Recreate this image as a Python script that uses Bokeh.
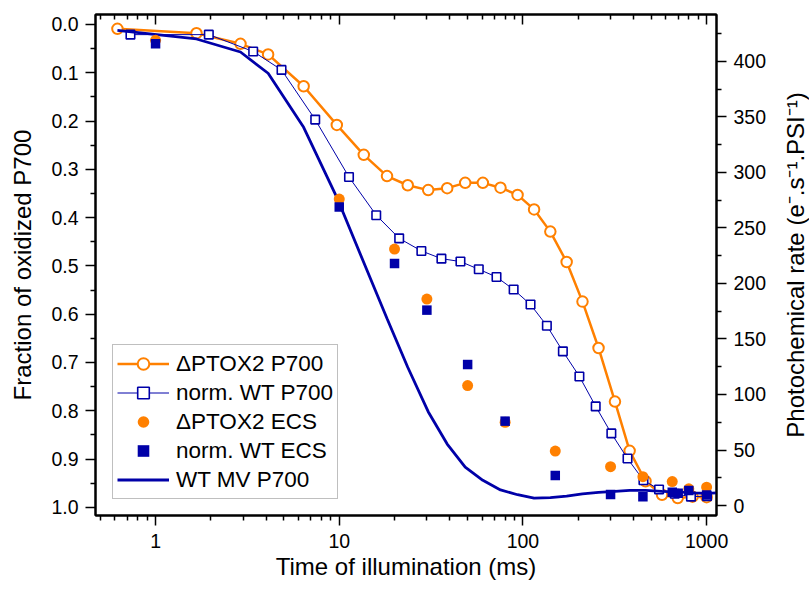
from bokeh.plotting import figure
from bokeh.layouts import row
from bokeh.models import (Range1d, LinearAxis, LogAxis, FixedTicker, PrintfTickFormatter,
                          Legend, LegendItem, LogScale)
from bokeh.embed import file_html
from bokeh.resources import INLINE

# ---------------- data ----------------
# ΔPTOX2 P700 (fraction of oxidized P700, left axis)
ptox_p700_t = [0.62, 1.67, 2.9, 4.1, 6.4, 9.7, 13.6, 18.2, 23.6, 30.5, 38.7, 48.5, 60.5, 75.5,
               93.5, 115, 141, 173, 211, 258, 317, 381, 465, 572, 696, 838, 1000]
ptox_p700 = [0.009, 0.018, 0.040, 0.062, 0.128, 0.208, 0.270, 0.314, 0.333, 0.343, 0.339, 0.328,
             0.328, 0.338, 0.353, 0.383, 0.429, 0.492, 0.574, 0.670, 0.781, 0.883, 0.946, 0.974,
             0.981, 0.978, 0.979]

# norm. WT P700 (left axis)
wt_p700_t = [0.73, 1.95, 3.4, 4.85, 7.4, 11.3, 15.9, 21.2, 28, 36, 45.7, 57.5, 71.8, 89, 110,
             135, 165, 203, 249, 303, 371, 453, 551, 671, 822, 1005]
wt_p700 = [0.021, 0.021, 0.056, 0.094, 0.197, 0.316, 0.395, 0.443, 0.469, 0.485, 0.491, 0.507,
           0.523, 0.549, 0.580, 0.624, 0.677, 0.729, 0.791, 0.847, 0.899, 0.944, 0.963, 0.972,
           0.978, 0.977]

# ΔPTOX2 ECS (photochemical rate, right axis)
ptox_ecs_t = [1, 10, 20, 30, 50, 80, 150, 300, 450, 650, 800, 1000]
ptox_ecs = [419, 276, 231, 186, 108, 75, 49, 35, 26, 21.6, 15, 16.5]

# norm. WT ECS (right axis)
wt_ecs_t = [1, 10, 20, 30, 50, 80, 150, 300, 450, 650, 700, 800, 1000]
wt_ecs = [416, 269, 218, 176, 127, 76, 27, 10, 8, 12, 11, 13.5, 9.5]

# WT MV P700 (left axis)
mv_t = [0.62, 1.67, 2.9, 4.1, 6.4, 9.7, 13.6, 18.2, 23.6, 30.5, 38.7, 48.5, 60.5, 75.5, 93.5,
        115, 141, 173, 211, 258, 317, 381, 465, 572, 696, 838, 1000, 1200]
mv_p700 = [0.012, 0.030, 0.057, 0.101, 0.213, 0.358, 0.493, 0.609, 0.710, 0.802, 0.869, 0.917,
           0.944, 0.964, 0.974, 0.981, 0.980, 0.977, 0.972, 0.969, 0.967, 0.965, 0.965, 0.967,
           0.968, 0.970, 0.971, 0.970]

x_major = [1, 10, 100, 1000]
x_minor = [0.5, 0.6, 0.7, 0.8, 0.9, 2, 3, 4, 5, 6, 7, 8, 9, 20, 30, 40, 50, 60, 70, 80, 90,
           200, 300, 400, 500, 600, 700, 800, 900]
left_major = [0.0, 0.1, 0.2, 0.3, 0.4, 0.5, 0.6, 0.7, 0.8, 0.9, 1.0]
left_minor = [0.05, 0.15, 0.25, 0.35, 0.45, 0.55, 0.65, 0.75, 0.85, 0.95]
right_major = [0, 50, 100, 150, 200, 250, 300, 350, 400]
right_minor = [25, 75, 125, 175, 225, 275, 325, 375, 425]
right_title = "Photochemical rate (e\u207B.s\u207B\u00B9.PSI\u207B\u00B9)"

ORANGE = "#FF8000"
BLUE = "#0000A8"
FONT = "Liberation Sans"

p = figure(width=775, height=596, x_axis_type=None, y_axis_type=None,
           x_range=Range1d(0.471, 1132), y_range=Range1d(1.017, -0.0207),
           output_backend="svg", toolbar_location=None,
           min_border_left=95, min_border_right=59, min_border_top=14, min_border_bottom=81)
p.x_scale = LogScale()
p.extra_y_ranges = {"rate": Range1d(-9.0, 442.3)}
p.grid.visible = False
p.outline_line_color = "black"
p.outline_line_width = 2
p.background_fill_color = "white"
p.border_fill_color = "white"


def style(ax):
    ax.axis_line_width = 2
    ax.axis_line_color = "black"
    ax.major_tick_line_width = 1.5
    ax.minor_tick_line_width = 1.5
    ax.major_tick_line_color = "black"
    ax.minor_tick_line_color = "black"
    ax.major_label_text_font = FONT
    ax.major_label_text_font_size = "19.5px"
    ax.major_label_text_color = "black"
    ax.axis_label_text_font = FONT
    ax.axis_label_text_font_size = "24px"
    ax.axis_label_text_font_style = "normal"
    ax.axis_label_text_color = "black"


xb = LogAxis(ticker=FixedTicker(ticks=x_major, minor_ticks=x_minor),
             formatter=PrintfTickFormatter(format="%d"),
             axis_label="Time of illumination (ms)")
style(xb)
xb.major_tick_out = 10
xb.major_tick_in = 0
xb.minor_tick_out = 5
xb.minor_tick_in = 0
xb.major_label_standoff = 8
xb.axis_label_standoff = 2
p.add_layout(xb, "below")

xt = LogAxis(ticker=FixedTicker(ticks=x_major, minor_ticks=x_minor),
             formatter=PrintfTickFormatter(format="%d"))
style(xt)
xt.major_tick_out = 0
xt.major_tick_in = 10
xt.minor_tick_out = 0
xt.minor_tick_in = 5
xt.major_label_text_font_size = "8px"
xt.major_label_text_color = None
xt.major_label_standoff = 0
p.add_layout(xt, "above")

yl = LinearAxis(ticker=FixedTicker(ticks=left_major, minor_ticks=left_minor),
                formatter=PrintfTickFormatter(format="%.1f"),
                axis_label="Fraction of oxidized P700")
style(yl)
yl.major_tick_out = 10
yl.major_tick_in = 0
yl.minor_tick_out = 5
yl.minor_tick_in = 0
yl.major_label_standoff = 7
yl.axis_label_standoff = 12
p.add_layout(yl, "left")

yr = LinearAxis(y_range_name="rate",
                ticker=FixedTicker(ticks=right_major, minor_ticks=right_minor),
                formatter=PrintfTickFormatter(format="%d"))
style(yr)
yr.major_tick_out = 10
yr.major_tick_in = 0
yr.minor_tick_out = 5
yr.minor_tick_in = 0
yr.major_label_standoff = 7
p.add_layout(yr, "right")

# ---------------- glyphs ----------------
r_ptox_line = p.line(ptox_p700_t, ptox_p700, line_color=ORANGE, line_width=2.5)
r_ptox_pts = p.scatter(ptox_p700_t, ptox_p700, marker="circle", size=10.5, line_color=ORANGE,
                       line_width=2, fill_color="white")

r_wt_line = p.line(wt_p700_t, wt_p700, line_color=BLUE, line_width=1)
r_wt_pts = p.scatter(wt_p700_t, wt_p700, marker="square", size=8.5, line_color=BLUE,
                     line_width=1.6, fill_color="white")

r_mv = p.line(mv_t, mv_p700, line_color=BLUE, line_width=2.8)

r_ptox_ecs = p.scatter(ptox_ecs_t, ptox_ecs, y_range_name="rate", marker="circle", size=11,
                       line_color=ORANGE, fill_color=ORANGE, line_width=0)
r_wt_ecs = p.scatter(wt_ecs_t, wt_ecs, y_range_name="rate", marker="square", size=9.5,
                     line_color=BLUE, fill_color=BLUE, line_width=0)

legend = Legend(items=[
    LegendItem(label="\u0394PTOX2 P700", renderers=[r_ptox_line, r_ptox_pts]),
    LegendItem(label="norm. WT P700", renderers=[r_wt_line, r_wt_pts]),
    LegendItem(label="\u0394PTOX2 ECS", renderers=[r_ptox_ecs]),
    LegendItem(label="norm. WT ECS", renderers=[r_wt_ecs]),
    LegendItem(label="WT MV P700", renderers=[r_mv]),
], location=(17, 16))
legend.label_text_font = FONT
legend.label_text_font_size = "22.5px"
legend.label_text_color = "black"
legend.glyph_width = 52
legend.glyph_height = 29
legend.label_height = 29
legend.spacing = 0
legend.padding = 4
legend.margin = 0
legend.label_standoff = 7
legend.border_line_color = "#7f7f7f"
legend.border_line_width = 1
legend.background_fill_color = "white"
legend.background_fill_alpha = 1
p.add_layout(legend, "center")

# ---------------- narrow companion figure carrying the right-hand axis title ----------------
# (a left-side axis label reads bottom-to-top, as the reference's right title does)
side = figure(width=34, height=596, x_axis_type=None, y_axis_type=None,
              x_range=Range1d(0, 1), y_range=Range1d(-9.0, 442.3),
              output_backend="svg", toolbar_location=None,
              min_border_left=33, min_border_right=0, min_border_top=14, min_border_bottom=81)
side.grid.visible = False
side.outline_line_color = None
side.background_fill_color = "white"
side.border_fill_color = "white"
ya = LinearAxis(ticker=FixedTicker(ticks=[]), axis_label=right_title)
ya.axis_line_color = None
ya.major_tick_line_color = None
ya.minor_tick_line_color = None
ya.major_tick_out = 0
ya.minor_tick_out = 0
ya.major_label_standoff = 0
ya.axis_label_standoff = 0
ya.axis_label_text_font = FONT
ya.axis_label_text_font_size = "24px"
ya.axis_label_text_font_style = "normal"
ya.axis_label_text_color = "black"
side.add_layout(ya, "left")

layout = row(p, side, spacing=0)
open("out.html", "w").write(file_html(layout, INLINE))
